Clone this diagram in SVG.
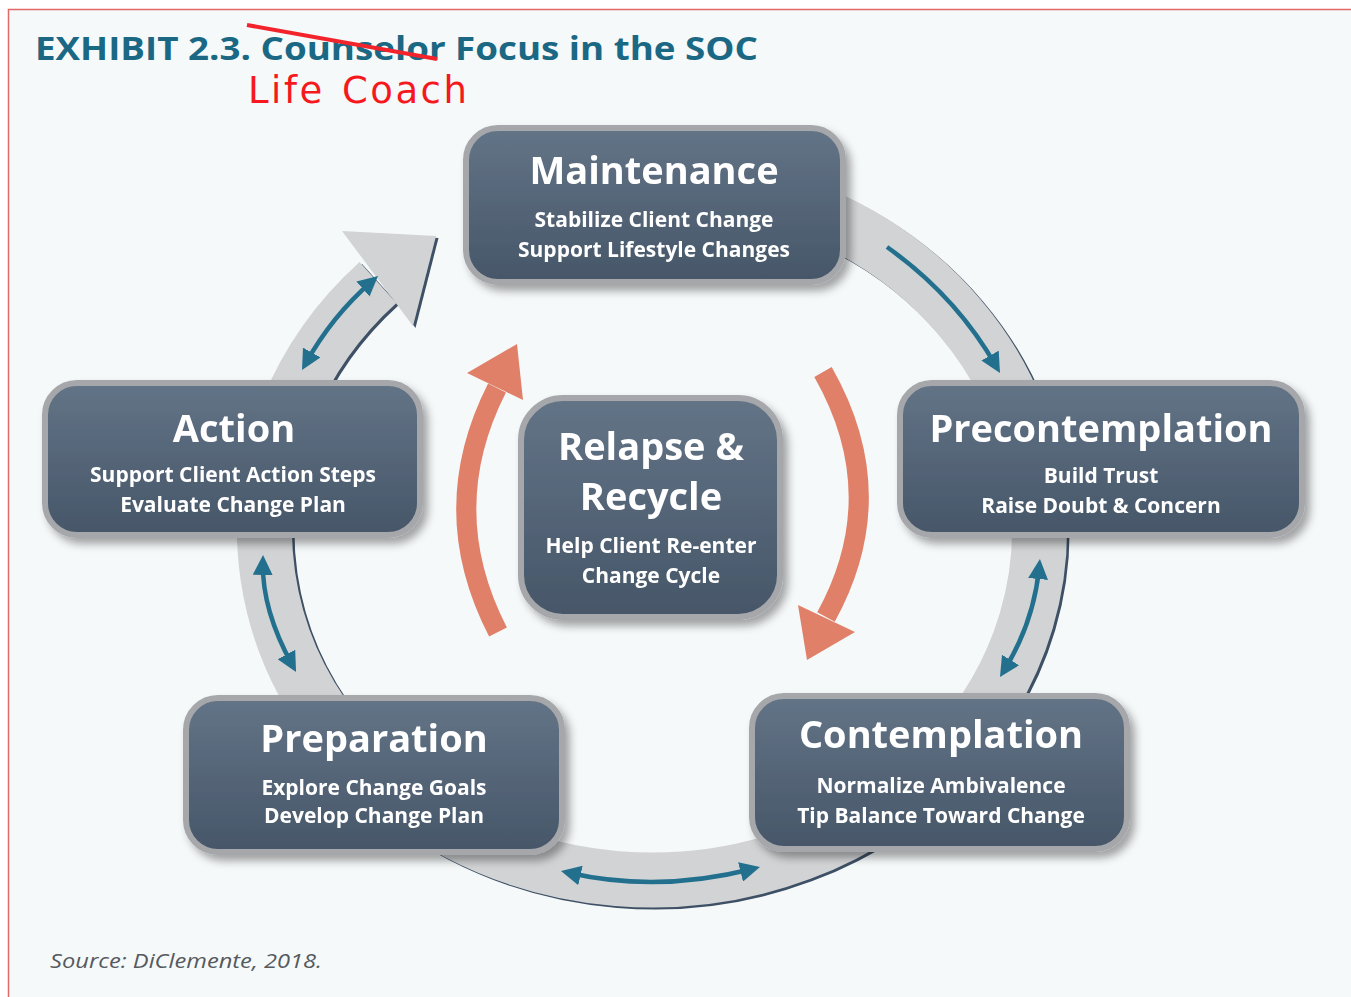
<svg xmlns="http://www.w3.org/2000/svg" xmlns:xlink="http://www.w3.org/1999/xlink" width="1351" height="997" viewBox="0 0 1351 997">
<style>
.node rect{fill:url(#nodeGrad);stroke:#a5a7aa;stroke-width:6}
.node{filter:url(#shadow)}
.t{font-family:"Open Sans","Noto Sans","Liberation Sans",sans-serif;font-weight:700;fill:#ffffff;text-anchor:middle}
.h{font-size:38px}
.s{font-size:21px}
.blue{fill:none;stroke:#22708e;stroke-width:4.5}
.orange{fill:none;stroke:#e08068;stroke-width:20}
</style>
<defs>
<linearGradient id="nodeGrad" x1="0" y1="0" x2="0" y2="1">
<stop offset="0" stop-color="#637487"/>
<stop offset="1" stop-color="#465668"/>
</linearGradient>
<filter id="shadow" x="-10%" y="-10%" width="125%" height="135%">
<feDropShadow dx="5" dy="6" stdDeviation="4" flood-color="#000" flood-opacity="0.35"/>
</filter>
<marker id="bh" viewBox="0 0 20 20" refX="12" refY="10" markerWidth="20" markerHeight="20" markerUnits="userSpaceOnUse" orient="auto-start-reverse">
<path d="M0,0 L20,10 L0,20 z" fill="#22708e"/>
</marker>
<g id="ringShape">
<path d="M652 180 A387.5 350 0 1 1 378 282.5" fill="none" stroke-width="55"/>
<polygon points="342,231 436,236 413,326" stroke="none"/>
</g>
</defs>
<rect x="0" y="0" width="1351" height="997" fill="#ffffff"/>
<rect x="8.5" y="9.5" width="1360" height="1000" fill="#f6f9fa" stroke="#e06a67" stroke-width="1.5"/>
<text x="35" y="60" textLength="723" lengthAdjust="spacingAndGlyphs" style="font-family:'Open Sans','Liberation Sans',sans-serif;font-weight:700;font-size:33px;fill:#1b6884">EXHIBIT 2.3. Counselor Focus in the SOC</text>
<line x1="247" y1="25" x2="437" y2="59" stroke="#f2232b" stroke-width="4"/>
<text x="248" y="103" style="font-family:'DejaVu Sans','Liberation Sans',sans-serif;font-size:37px;letter-spacing:2.5px;word-spacing:3px;fill:#f5191e">Life Coach</text>
<g id="connectors">
<use xlink:href="#ringShape" href="#ringShape" stroke="#3e5065" fill="#3e5065" transform="translate(2.5,2)"/>
<use xlink:href="#ringShape" href="#ringShape" stroke="#d1d3d5" fill="#d1d3d5"/>
<path class="blue" d="M305.9 363 Q332 316 372 281.2" marker-start="url(#bh)" marker-end="url(#bh)"/>
<path class="blue" d="M887 247 Q956 296 996 366" marker-end="url(#bh)"/>
<path class="blue" d="M262.9 563 Q262 610 292.2 665" marker-start="url(#bh)" marker-end="url(#bh)"/>
<path class="blue" d="M1039.2 567 Q1034 622 1004.2 670.2" marker-start="url(#bh)" marker-end="url(#bh)"/>
<path class="blue" d="M568.8 872.8 Q657 893 752.2 869" marker-start="url(#bh)" marker-end="url(#bh)"/>
<path class="orange" d="M498 632 Q435 510 497 388"/>
<polygon points="467,373 517,344 523,400" fill="#e08068"/>
<path class="orange" d="M823 372 Q893 495 826 617"/>
<polygon points="798,605 807,660 855,632" fill="#e08068"/>
</g>
<g id="maintenance" class="node">
<rect x="466" y="128" width="377" height="154" rx="32"/>
<text class="t h" x="654" y="184">Maintenance</text>
<text class="t s" x="654" y="227">Stabilize Client Change</text>
<text class="t s" x="654" y="257">Support Lifestyle Changes</text>
</g>
<g id="action" class="node">
<rect x="45" y="383" width="375" height="152" rx="32"/>
<text class="t h" x="234" y="442">Action</text>
<text class="t s" x="233" y="482">Support Client Action Steps</text>
<text class="t s" x="233" y="512">Evaluate Change Plan</text>
</g>
<g id="precontemplation" class="node">
<rect x="900" y="383" width="402" height="152" rx="32"/>
<text class="t h" x="1101" y="442">Precontemplation</text>
<text class="t s" x="1101" y="483">Build Trust</text>
<text class="t s" x="1101" y="513">Raise Doubt &amp; Concern</text>
</g>
<g id="relapse" class="node">
<rect x="521" y="398" width="259" height="219" rx="42"/>
<text class="t h" x="651" y="460">Relapse &amp;</text>
<text class="t h" x="651" y="510">Recycle</text>
<text class="t s" x="651" y="553">Help Client Re-enter</text>
<text class="t s" x="651" y="583">Change Cycle</text>
</g>
<g id="preparation" class="node">
<rect x="186" y="698" width="376" height="154" rx="32"/>
<text class="t h" x="374" y="752">Preparation</text>
<text class="t s" x="374" y="795">Explore Change Goals</text>
<text class="t s" x="374" y="823">Develop Change Plan</text>
</g>
<g id="contemplation" class="node">
<rect x="752" y="696" width="375" height="153" rx="32"/>
<text class="t h" x="941" y="748">Contemplation</text>
<text class="t s" x="941" y="793">Normalize Ambivalence</text>
<text class="t s" x="941" y="823">Tip Balance Toward Change</text>
</g>
<text x="50" y="968" textLength="272" lengthAdjust="spacingAndGlyphs" style="font-family:'Open Sans','Liberation Sans',sans-serif;font-style:italic;font-size:20px;fill:#555a5e">Source: DiClemente, 2018.</text>
</svg>
